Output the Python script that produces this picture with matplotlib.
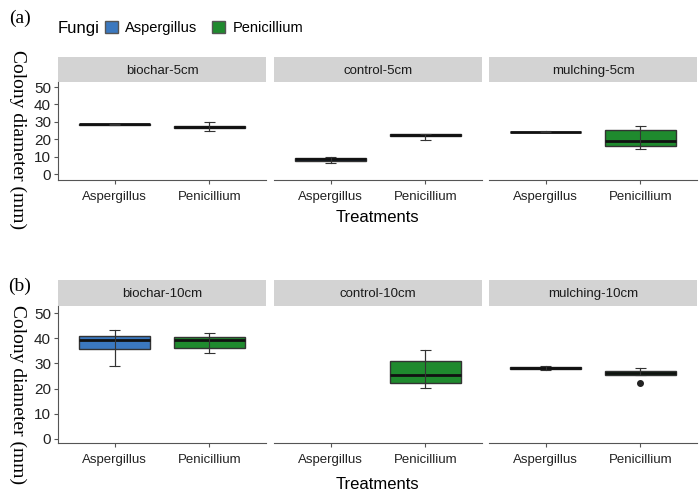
# boxplots of colony diameter, faceted by treatment and depth
import matplotlib
matplotlib.use("Agg")
import matplotlib.pyplot as plt
from matplotlib.patches import Patch

fungi = ["Aspergillus", "Penicillium"]
treatments_5 = ["biochar-5cm", "control-5cm", "mulching-5cm"]
treatments_10 = ["biochar-10cm", "control-10cm", "mulching-10cm"]

# box stats per panel: [Aspergillus, Penicillium], None = no data
# (whislo, q1, median, q3, whishi)
stats_5 = [
    [(28.3, 28.4, 28.6, 28.8, 28.9), (25.0, 26.2, 27.0, 27.8, 30.0)],
    [(6.5, 7.8, 8.4, 9.0, 10.0), (19.5, 21.6, 22.2, 23.0, 23.3)],
    [(24.1, 24.2, 24.3, 24.4, 24.5), (14.2, 16.3, 19.2, 25.3, 27.6)],
]
stats_10 = [
    [(28.8, 35.6, 39.2, 40.9, 43.3), (34.1, 36.1, 39.2, 40.6, 42.2)],
    [None, (20.1, 22.1, 25.3, 31.1, 35.2)],
    [(27.2, 27.6, 28.0, 28.4, 28.8), (25.3, 25.5, 26.1, 26.8, 28.0)],
]
outliers_10 = [[[], []], [[], []], [[], [22.3]]]

colors = {"Aspergillus": "#3b78bf", "Penicillium": "#1f8a2e"}

plt.rcParams["font.family"] = ["Liberation Sans Narrow", "Liberation Sans", "DejaVu Sans"]

W, H = 700, 498
fig = plt.figure(figsize=(W / 100, H / 100), dpi=100)

panel_x = [(58, 266), (274, 482), (489, 697)]


def px_axes(x0, x1, y0, y1):
    return fig.add_axes([x0 / W, 1 - y1 / H, (x1 - x0) / W, (y1 - y0) / H])


def draw_row(labels, stats, outliers, y_top, y_strip, y_bottom, ylim):
    for i, (lab, st) in enumerate(zip(labels, stats)):
        x0, x1 = panel_x[i]
        # strip
        sax = px_axes(x0, x1, y_strip, y_top)
        sax.set_facecolor("#d3d3d3")
        sax.set_xticks([]); sax.set_yticks([])
        for s in sax.spines.values():
            s.set_visible(False)
        sax.text(0.5, 0.45, lab, ha="center", va="center", fontsize=9.5,
                 color="#1a1a1a", transform=sax.transAxes)

        ax = px_axes(x0, x1, y_top, y_bottom)
        for j, f in enumerate(fungi):
            if st[j] is None:
                continue
            lo, q1, med, q3, hi = st[j]
            fl = outliers[i][j] if outliers else []
            ax.bxp([dict(whislo=lo, q1=q1, med=med, q3=q3, whishi=hi, fliers=fl)],
                   positions=[j + 1], widths=0.75, patch_artist=True,
                   showcaps=False, manage_ticks=False,
                   boxprops=dict(facecolor=colors[f], edgecolor="#333333", linewidth=1.0),
                   medianprops=dict(color="#111111", linewidth=2.0),
                   whiskerprops=dict(color="#333333", linewidth=0.8),
                   flierprops=dict(marker="o", markerfacecolor="#222222",
                                   markeredgecolor="#222222", markersize=4))
            # errorbar line through the box plus caps
            ax.vlines(j + 1, lo, hi, color="#333333", linewidth=0.8, zorder=4)
            ax.hlines([lo, hi], j + 1 - 0.06, j + 1 + 0.06, color="#333333",
                      linewidth=0.8, zorder=4)
        ax.set_xlim(0.4, 2.6)
        ax.set_ylim(*ylim)
        ax.set_xticks([1, 2])
        ax.set_xticklabels(fungi, fontsize=9.5, color="#222222")
        ax.spines["top"].set_visible(False)
        ax.spines["right"].set_visible(False)
        ax.spines["bottom"].set_color("#555555")
        ax.tick_params(axis="x", length=3, color="#555555", pad=5)
        if i == 0:
            ax.spines["left"].set_color("#555555")
            ax.set_yticks([0, 10, 20, 30, 40, 50])
            ax.tick_params(axis="y", length=3, color="#555555", labelsize=11,
                           labelcolor="#222222", pad=2)
        else:
            ax.spines["left"].set_visible(False)
            ax.set_yticks([])


draw_row(treatments_5, stats_5, None, 82, 57, 180, (-3.4, 52.9))
draw_row(treatments_10, stats_10, outliers_10, 306, 280, 443, (-1.6, 52.8))

# axis titles
fig.text(377 / W, 1 - 217 / H, "Treatments", ha="center", va="center", fontsize=12)
fig.text(377 / W, 1 - 484 / H, "Treatments", ha="center", va="center", fontsize=12)
serif = ["Liberation Serif", "DejaVu Serif"]
fig.text(18 / W, 1 - 140 / H, "Colony diameter (mm)", rotation=-90, ha="center",
         va="center", fontsize=14, family=serif)
fig.text(18 / W, 1 - 395 / H, "Colony diameter (mm)", rotation=-90, ha="center",
         va="center", fontsize=14, family=serif)
fig.text(20 / W, 1 - 18 / H, "(a)", ha="center", va="center", fontsize=14, family=serif)
fig.text(20 / W, 1 - 286 / H, "(b)", ha="center", va="center", fontsize=14, family=serif)

# legend: title inline, entries to the right
fig.text(58 / W, 1 - 28 / H, "Fungi", ha="left", va="center", fontsize=12)
handles = [Patch(facecolor=colors[f], edgecolor="#555555", label=f) for f in fungi]
fig.legend(handles=handles, loc="center left", bbox_to_anchor=(105 / W, 1 - 28 / H),
           ncol=2, frameon=False, fontsize=10.5, borderaxespad=0, borderpad=0,
           handlelength=0.9, handleheight=0.9, handletextpad=0.5, columnspacing=1.0)

fig.savefig("out.png", dpi=100)
